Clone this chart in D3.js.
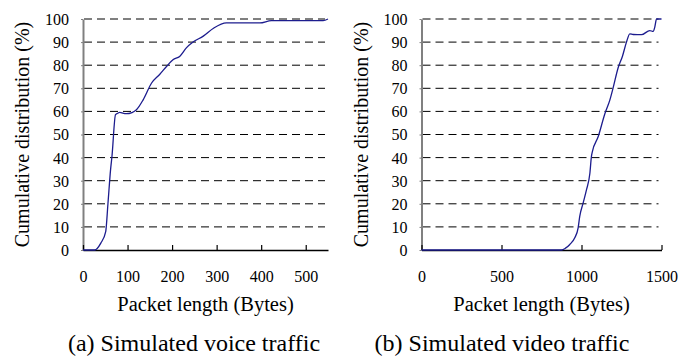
<!DOCTYPE html>
<html>
<head>
<meta charset="utf-8">
<script src="https://cdn.jsdelivr.net/npm/d3@7"></script>
</head>
<body style="margin:0">
<div id="chart"></div>
<script>
// CDF values
var voiceLength = [0, 26, 40, 51, 56, 62, 65, 73, 79, 82, 97, 110, 120, 135, 154, 172, 190, 202, 217, 232, 247, 270, 293, 322, 397, 423, 539, 550];
var voiceCdf    = [0, 0, 3, 8, 20, 35, 40.5, 58.6, 59.3, 59.6, 59, 59.5, 60.7, 65, 72.3, 76, 80, 82.4, 83.8, 87.5, 90, 92.6, 96, 98.3, 98.3, 99.3, 99.3, 100];

var videoLength = [0, 875, 900, 927, 958, 979, 989, 1010, 1031, 1052, 1062, 1068, 1104, 1146, 1177, 1198, 1229, 1256, 1281, 1302, 1323, 1375, 1427, 1448, 1458, 1469, 1500];
var videoCdf    = [0, 0, 0.8, 2.4, 5.3, 9.6, 14.6, 20.3, 26, 33, 40.4, 42.6, 49, 59, 64.9, 70.3, 78.9, 83.9, 90, 93.6, 93.3, 93.2, 95, 94.6, 96.5, 100, 100];

var yTicks = [0, 10, 20, 30, 40, 50, 60, 70, 80, 90, 100];
var voiceXTicks = [0, 100, 200, 300, 400, 500];
var videoXTicks = [0, 500, 1000, 1500];

var yTitle = "Cumulative distribution (%)";
var xTitle = "Packet length (Bytes)";

var serif = "Liberation Serif";

var svg = d3.select("#chart").append("svg")
  .attr("width", 679)
  .attr("height", 356)
  .attr("font-family", serif);

var panels = [
  { left: 83, right: 328, xMax: 550, xs: voiceLength, ys: voiceCdf, ticks: voiceXTicks, titleX: 22, caption: "(a) Simulated voice traffic", capX: 194 },
  { left: 421.5, right: 661.5, xMax: 1500, xs: videoLength, ys: videoCdf, ticks: videoXTicks, titleX: 361, caption: "(b) Simulated video traffic", capX: 502 }
];

var plotTop = 19, plotBottom = 250;

panels.forEach(function(p) {
  var x = d3.scaleLinear().domain([0, p.xMax]).range([p.left, p.right]);
  var y = d3.scaleLinear().domain([0, 100]).range([plotBottom, plotTop]);

  // dashed grid
  svg.append("g").selectAll("line")
    .data(yTicks.filter(function(d) { return d > 0; }))
    .enter().append("line")
    .attr("x1", p.left + 1)
    .attr("x2", p.right - 3)
    .attr("y1", function(d) { return y(d); })
    .attr("y2", function(d) { return y(d); })
    .attr("stroke", "#000")
    .attr("stroke-width", 1)
    .attr("stroke-dasharray", "8,5");

  // y axis
  var yAxis = svg.append("g")
    .attr("transform", "translate(" + p.left + ",0)")
    .call(d3.axisLeft(y).tickValues(yTicks).tickSizeInner(2).tickSizeOuter(0).tickPadding(12));
  yAxis.attr("font-family", serif).attr("font-size", 16);
  yAxis.select(".domain").attr("stroke", "#808080").attr("stroke-width", 2);
  yAxis.selectAll(".tick line").attr("stroke", "#808080");
  yAxis.selectAll("text").attr("dy", "0.34em");

  // x axis
  var xAxis = svg.append("g")
    .attr("transform", "translate(0," + plotBottom + ")")
    .call(d3.axisBottom(x).tickValues(p.ticks).tickFormat(d3.format("d"))
      .tickSizeInner(-5).tickSizeOuter(0).tickPadding(21));
  xAxis.attr("font-family", serif).attr("font-size", 16);
  xAxis.select(".domain").attr("stroke", "#000").attr("stroke-width", 1.3);
  xAxis.selectAll(".tick line").attr("stroke", "#000").attr("stroke-width", 1.2);

  // curve
  var pts = p.xs.map(function(v, i) { return [v, p.ys[i]]; });
  svg.append("path")
    .datum(pts)
    .attr("fill", "none")
    .attr("stroke", "#1c1c8e")
    .attr("stroke-width", 1.3)
    .attr("d", d3.line()
      .x(function(d) { return x(d[0]); })
      .y(function(d) { return y(d[1]); })
      .curve(d3.curveMonotoneX));

  // titles
  svg.append("text")
    .attr("transform", "translate(" + p.titleX + "," + ((plotTop + plotBottom) / 2) + ")rotate(-90)")
    .attr("text-anchor", "middle")
    .attr("dy", "0.35em")
    .attr("font-size", 20)
    .text(yTitle);

  svg.append("text")
    .attr("x", (p.left + p.right) / 2)
    .attr("y", 311)
    .attr("text-anchor", "middle")
    .attr("font-size", 20.5)
    .text(xTitle);

  svg.append("text")
    .attr("x", p.capX)
    .attr("y", 351)
    .attr("text-anchor", "middle")
    .attr("font-size", 24)
    .text(p.caption);
});
</script>
</body>
</html>
